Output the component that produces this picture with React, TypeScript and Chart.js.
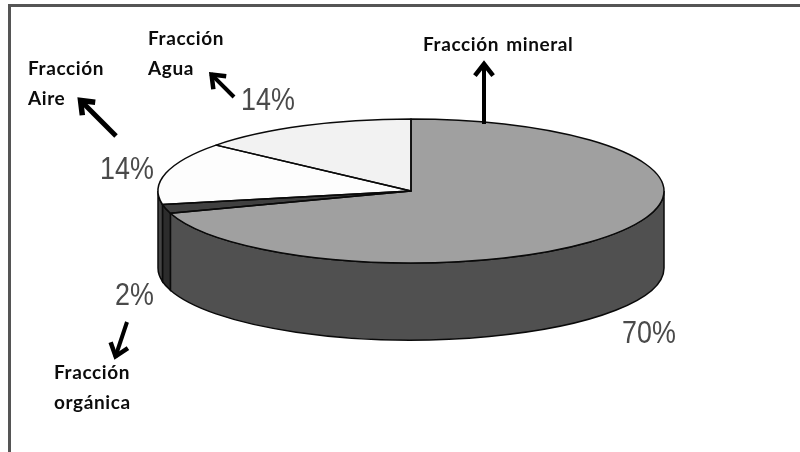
import React, { useEffect, useRef } from "react";
import { Chart, registerables } from "chart.js";

Chart.register(...registerables);

const categories = ["Fracción mineral", "Fracción orgánica", "Fracción Aire", "Fracción Agua"];
const values = [70, 2, 14, 14];
const topColors = ["#a0a0a0", "#404040", "#fdfdfd", "#f2f2f2"];
const sideColors = ["#505050", "#2c2c2c", "#444444", "#787878"];

const CX = 411;
const CY = 191;
const RX = 253;
const RY = 72;
const DEPTH = 77;
const OUTLINE = "#0a0a0a";

const percentLabels = [
  { index: 0, x: 622, y: 343 },
  { index: 1, x: 115, y: 305 },
  { index: 2, x: 100, y: 179 },
  { index: 3, x: 241, y: 110 },
];
const nameLabels = [
  { lines: ["Fracción mineral"], x: 423, y: 51 },
  { lines: ["Fracción", "orgánica"], x: 54, y: 379 },
  { lines: ["Fracción", "Aire"], x: 28, y: 75 },
  { lines: ["Fracción", "Agua"], x: 148, y: 45 },
];
const arrows = [
  { from: [484, 124], to: [484, 59], w: 4 },
  { from: [127, 322], to: [114, 361], w: 4 },
  { from: [116, 136], to: [77, 97], w: 5 },
  { from: [234, 97], to: [208, 71], w: 4 },
];

const pie3d = {
  id: "pie3d",
  beforeDatasetsDraw(chart: any) {
    const { ctx } = chart;
    const arcs = chart.getDatasetMeta(0).data;
    ctx.save();
    arcs.forEach((arc: any, i: number) => {
      const a = Math.max(arc.startAngle, 0);
      const b = Math.min(arc.endAngle, Math.PI);
      if (b <= a) return;
      ctx.beginPath();
      ctx.ellipse(CX, CY, RX, RY, 0, a, b);
      ctx.ellipse(CX, CY + DEPTH, RX, RY, 0, b, a, true);
      ctx.closePath();
      ctx.fillStyle = sideColors[i];
      ctx.fill();
      ctx.lineWidth = 1.5;
      ctx.strokeStyle = OUTLINE;
      ctx.stroke();
    });
    ctx.restore();
    const first = arcs[0];
    const r = first.outerRadius;
    ctx.save();
    ctx.translate(CX, CY);
    ctx.scale(RX / r, RY / r);
    ctx.translate(-first.x, -first.y);
  },
  afterDatasetsDraw(chart: any) {
    const { ctx } = chart;
    ctx.restore();
    const arcs = chart.getDatasetMeta(0).data;
    ctx.save();
    ctx.strokeStyle = OUTLINE;
    ctx.lineWidth = 1.5;
    ctx.lineJoin = "round";
    arcs.forEach((arc: any) => {
      ctx.beginPath();
      ctx.moveTo(CX, CY);
      ctx.ellipse(CX, CY, RX, RY, 0, arc.startAngle, arc.endAngle);
      ctx.closePath();
      ctx.stroke();
    });
    ctx.restore();

    ctx.save();
    ctx.fillStyle = "#4a4a4a";
    ctx.textBaseline = "alphabetic";
    ctx.font = '32px "Liberation Sans"';
    percentLabels.forEach((l) => {
      ctx.save();
      ctx.translate(l.x, l.y);
      ctx.scale(0.84, 1);
      ctx.fillText(`${values[l.index]}%`, 0, 0);
      ctx.restore();
    });
    ctx.fillStyle = "#0c0c0c";
    ctx.font = "bold 19px Lato";
    ctx.letterSpacing = "0.6px";
    ctx.wordSpacing = "2px";
    nameLabels.forEach((l) => {
      l.lines.forEach((t, k) => ctx.fillText(t, l.x, l.y + k * 30));
    });
    ctx.restore();

    ctx.save();
    ctx.strokeStyle = "#000";
    ctx.lineCap = "butt";
    ctx.lineJoin = "miter";
    arrows.forEach(({ from, to, w }) => {
      const ang = Math.atan2(to[1] - from[1], to[0] - from[0]);
      ctx.lineWidth = w;
      ctx.beginPath();
      ctx.moveTo(from[0], from[1]);
      ctx.lineTo(to[0] - Math.cos(ang) * 4, to[1] - Math.sin(ang) * 4);
      ctx.stroke();
      const len = 19;
      const spread = 0.5;
      ctx.lineWidth = w + 0.5;
      ctx.beginPath();
      ctx.moveTo(to[0] - len * Math.cos(ang - spread), to[1] - len * Math.sin(ang - spread));
      ctx.lineTo(to[0] - 5 * Math.cos(ang), to[1] - 5 * Math.sin(ang));
      ctx.lineTo(to[0] - len * Math.cos(ang + spread), to[1] - len * Math.sin(ang + spread));
      ctx.stroke();
    });
    ctx.restore();
  },
};

export default function App() {
  const ref = useRef<HTMLCanvasElement>(null);
  useEffect(() => {
    document.body.style.margin = "0";
    document.body.style.overflow = "hidden";
    const chart = new Chart(ref.current!, {
      type: "pie",
      data: {
        labels: categories,
        datasets: [{ data: values, backgroundColor: topColors, borderWidth: 0, clip: false } as any],
      },
      options: {
        responsive: false,
        animation: false,
        plugins: { legend: { display: false }, tooltip: { enabled: false } },
      },
      plugins: [pie3d],
    });
    return () => chart.destroy();
  }, []);
  return (
    <div style={{ position: "relative", width: 800, height: 452, overflow: "hidden", background: "#fff" }}>
      <canvas ref={ref} width={800} height={452} style={{ display: "block" }} />
      <div
        style={{
          position: "absolute",
          left: 8,
          top: 4,
          width: 800,
          height: 460,
          borderLeft: "3px solid #555",
          borderTop: "3px solid #555",
        }}
      />
    </div>
  );
}
